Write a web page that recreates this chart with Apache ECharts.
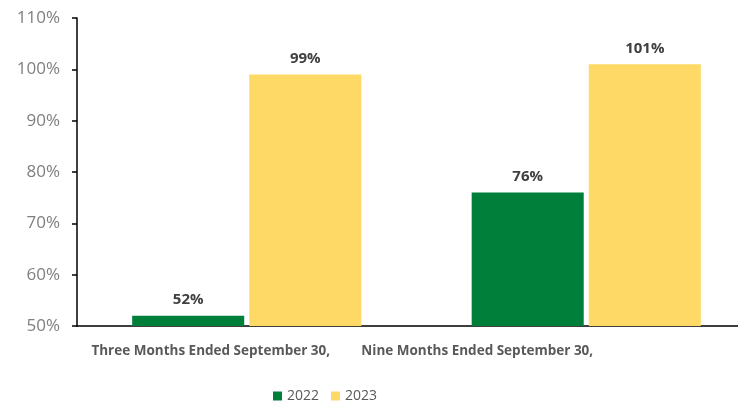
<!DOCTYPE html>
<html>
<head>
<meta charset="utf-8">
<script src="https://cdn.jsdelivr.net/npm/echarts@6/dist/echarts.min.js"></script>
<style>
  html, body { margin: 0; padding: 0; background: #fff; overflow: hidden; }
  /* plot runs past the right edge in the reference (cropped), so the canvas is wider than the window */
  #chart { width: 756px; height: 408px; }
</style>
</head>
<body>
<div id="chart"></div>
<script>
// data
const categories = ['Three Months Ended September 30,', 'Nine Months Ended September 30,']
const values2022 = [52, 76]
const values2023 = [99, 101]
const seriesNames = ['2022', '2023']

const chart = echarts.init(document.getElementById('chart'))

const barLabel = {
  show: true,
  position: 'top',
  distance: 8,
  formatter: '{c}%',
  color: '#404040',
  fontWeight: 'bold',
  fontSize: 15,
  fontFamily: 'Open Sans'
}

// labels sit left of the category centres in the reference
const labelShift = [72, 218]

const option = {
  animation: false,
  textStyle: { fontFamily: 'Open Sans' },
  legend: {
    bottom: 0,
    left: 268,
    itemWidth: 9,
    itemHeight: 9,
    itemGap: 12,
    icon: 'rect',
    textStyle: { color: '#595959', fontSize: 14 },
    data: seriesNames
  },
  grid: {
    left: 77,
    right: 0,
    top: 18,
    bottom: 82
  },
  xAxis: {
    type: 'category',
    data: categories.map((c, i) => ({
      value: c,
      textStyle: { padding: [0, labelShift[i], 0, 0] }
    })),
    axisLine: { lineStyle: { color: '#000', width: 1.5 } },
    axisTick: { show: false },
    axisLabel: {
      color: '#595959',
      fontWeight: 'bold',
      fontSize: 13.5,
      margin: 18
    }
  },
  yAxis: {
    type: 'value',
    min: 50,
    max: 110,
    interval: 10,
    splitLine: { show: false },
    axisLine: { show: true, lineStyle: { color: '#000', width: 1.5 } },
    axisTick: { show: true, length: 5, lineStyle: { color: '#000', width: 1.5 } },
    axisLabel: {
      formatter: '{value}%',
      color: '#7f7f7f',
      fontSize: 17,
      margin: 17
    }
  },
  series: [
    {
      name: seriesNames[0],
      type: 'bar',
      data: values2022,
      itemStyle: { color: '#007f3a' },
      barGap: '4.5%',
      barCategoryGap: '32.5%',
      label: barLabel
    },
    {
      name: seriesNames[1],
      type: 'bar',
      data: values2023,
      itemStyle: { color: '#ffd966' },
      label: barLabel
    }
  ]
}

chart.setOption(option)
</script>
</body>
</html>
